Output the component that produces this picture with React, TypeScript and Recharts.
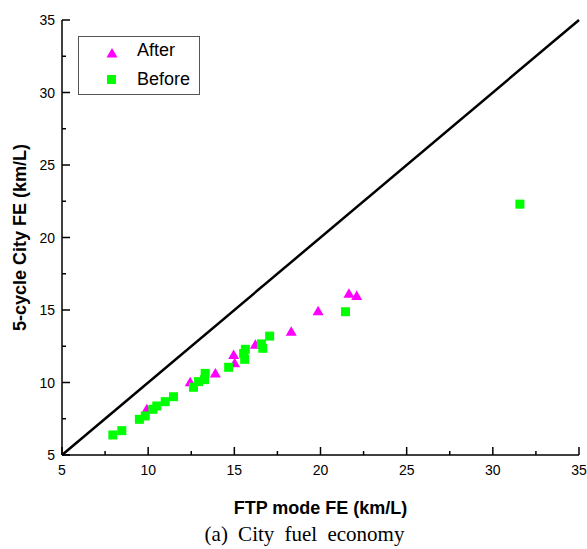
import React from "react";
import {
  ScatterChart,
  Scatter,
  XAxis,
  YAxis,
  ReferenceLine,
} from "recharts";

const afterX = [9.92, 12.44, 13.9, 14.96, 15.02, 16.22, 18.3, 19.86, 21.65, 22.1];
const afterY = [8.15, 10.02, 10.62, 11.9, 11.32, 12.6, 13.5, 14.92, 16.12, 15.97];

const beforeX = [
  7.95, 8.47, 9.49, 9.83, 10.27, 10.5, 10.99, 11.47, 12.63, 12.92, 13.27,
  13.31, 14.67, 15.54, 15.64, 15.6, 16.57, 16.65, 17.05, 21.45, 31.57,
];
const beforeY = [
  6.38, 6.68, 7.46, 7.69, 8.15, 8.38, 8.68, 9.02, 9.67, 10.06, 10.2, 10.63,
  11.05, 12.0, 12.29, 11.6, 12.66, 12.36, 13.2, 14.88, 22.3,
];

const axisTicks = [5, 7.5, 10, 12.5, 15, 17.5, 20, 22.5, 25, 27.5, 30, 32.5, 35];

const afterData = afterX.map((x, i) => ({ x, y: afterY[i] }));
const beforeData = beforeX.map((x, i) => ({ x, y: beforeY[i] }));

const FONT = "'Liberation Sans', Arial, sans-serif";

const isMajor = (v: number) => v % 5 === 0;

const BottomTick = (props: any) => {
  const { x, y, payload } = props;
  const len = isMajor(payload.value) ? 8 : 4;
  return (
    <g>
      <line x1={x} y1={y} x2={x} y2={y - len} stroke="#000" strokeWidth={1.5} />
      {isMajor(payload.value) && (
        <text x={x} y={y + 20} textAnchor="middle" fontSize={14} fontFamily={FONT} fill="#000">
          {payload.value}
        </text>
      )}
    </g>
  );
};

const TopTick = (props: any) => {
  const { x, y, payload } = props;
  const len = isMajor(payload.value) ? 8 : 4;
  return <line x1={x} y1={y} x2={x} y2={y + len} stroke="#000" strokeWidth={1.5} />;
};

const LeftTick = (props: any) => {
  const { x, y, payload } = props;
  const len = isMajor(payload.value) ? 8 : 4;
  return (
    <g>
      <line x1={x} y1={y} x2={x + len} y2={y} stroke="#000" strokeWidth={1.5} />
      {isMajor(payload.value) && (
        <text x={x - 7} y={y + 5} textAnchor="end" fontSize={14} fontFamily={FONT} fill="#000">
          {payload.value}
        </text>
      )}
    </g>
  );
};

const RightTick = (props: any) => {
  const { x, y, payload } = props;
  const len = isMajor(payload.value) ? 8 : 4;
  return <line x1={x} y1={y} x2={x - len} y2={y} stroke="#000" strokeWidth={1.5} />;
};

const Triangle = (props: any) => {
  const { cx, cy } = props;
  return (
    <polygon
      points={`${cx},${cy - 5.5} ${cx - 5.5},${cy + 4} ${cx + 5.5},${cy + 4}`}
      fill="#ff00ff"
    />
  );
};

const Square = (props: any) => {
  const { cx, cy } = props;
  return <rect x={cx - 4.5} y={cy - 4.5} width={9} height={9} fill="#00ff00" />;
};

export default function App() {
  return (
    <div style={{ position: "absolute", left: 0, top: 0, width: 587, height: 549, background: "#fff" }}>
      <ScatterChart
        width={587}
        height={549}
        margin={{ top: 20, right: 8, bottom: 34, left: 0 }}
      >
        <XAxis
          type="number"
          dataKey="x"
          domain={[5, 35]}
          ticks={axisTicks}
          interval={0}
          tickSize={0}
          tickMargin={0}
          height={60}
          axisLine={{ stroke: "#000", strokeWidth: 1.5 }}
          tick={<BottomTick />}
          label={{
            value: "FTP mode FE (km/L)",
            position: "insideBottom",
            offset: 1,
            style: { fontFamily: FONT, fontWeight: "bold", fontSize: 18, fill: "#000" },
          }}
        />
        <XAxis
          xAxisId="top"
          orientation="top"
          type="number"
          dataKey="x"
          domain={[5, 35]}
          ticks={axisTicks}
          interval={0}
          tickSize={0}
          tickMargin={0}
          height={0}
          axisLine={{ stroke: "#000", strokeWidth: 1.5 }}
          tick={<TopTick />}
        />
        <YAxis
          type="number"
          dataKey="y"
          domain={[5, 35]}
          ticks={axisTicks}
          interval={0}
          tickSize={0}
          tickMargin={0}
          width={62}
          axisLine={{ stroke: "#000", strokeWidth: 1.5 }}
          tick={<LeftTick />}
          label={{
            value: "5-cycle City FE (km/L)",
            angle: -90,
            position: "insideLeft",
            offset: 20,
            style: { textAnchor: "middle", fontFamily: FONT, fontWeight: "bold", fontSize: 18, fill: "#000" },
          }}
        />
        <YAxis
          yAxisId="right"
          orientation="right"
          type="number"
          dataKey="y"
          domain={[5, 35]}
          ticks={axisTicks}
          interval={0}
          tickSize={0}
          tickMargin={0}
          width={0}
          axisLine={{ stroke: "#000", strokeWidth: 1.5 }}
          tick={<RightTick />}
        />
        <ReferenceLine
          segment={[
            { x: 5, y: 5 },
            { x: 35, y: 35 },
          ]}
          stroke="#000"
          strokeWidth={2.5}
        />
        <Scatter data={afterData} shape={<Triangle />} isAnimationActive={false} />
        <Scatter data={beforeData} shape={<Square />} isAnimationActive={false} />
      </ScatterChart>
      <div
        style={{
          position: "absolute",
          left: 78,
          top: 36,
          width: 120,
          height: 57,
          border: "1px solid #555",
          fontFamily: FONT,
          fontSize: 18,
          color: "#000",
        }}
      >
        <div style={{ position: "absolute", left: 27, top: 6, width: 12, height: 12 }}>
          <svg width={12} height={12}>
            <polygon points="6,1 0.5,10.5 11.5,10.5" fill="#ff00ff" />
          </svg>
        </div>
        <div style={{ position: "absolute", left: 58, top: 3, lineHeight: "20px" }}>After</div>
        <div style={{ position: "absolute", left: 28, top: 38, width: 9, height: 9, background: "#00ff00" }} />
        <div style={{ position: "absolute", left: 58, top: 32, lineHeight: "20px" }}>Before</div>
      </div>
      <div
        style={{
          position: "absolute",
          left: 0,
          width: 587,
          top: 522,
          textAlign: "center",
          paddingLeft: 22,
          boxSizing: "border-box",
          fontFamily: "'Liberation Serif', 'Times New Roman', serif",
          fontSize: 21,
          wordSpacing: 5,
          color: "#000",
        }}
      >
        (a) City fuel economy
      </div>
    </div>
  );
}
